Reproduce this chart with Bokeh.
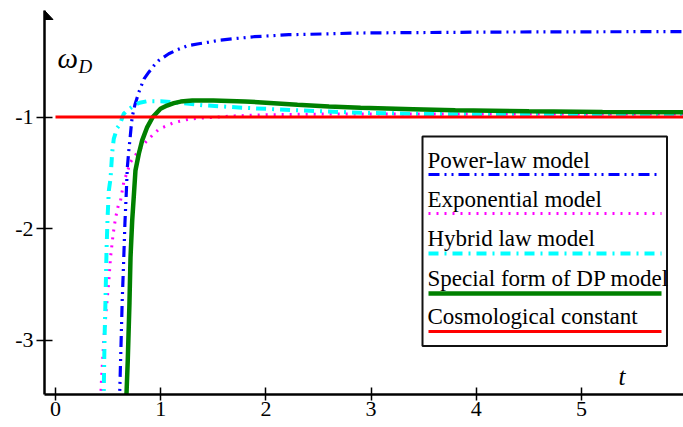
from bokeh.plotting import figure
from bokeh.models import Label, BoxAnnotation, FixedTicker, Range1d
from bokeh.embed import file_html
from bokeh.resources import INLINE

# ---------------- data ----------------
power_t = [0.605, 0.611, 0.624, 0.634, 0.648, 0.660, 0.672, 0.683, 0.697, 0.708, 0.718, 0.729,
           0.755, 0.792, 0.84, 0.887, 0.935, 0.982, 1.077, 1.157, 1.252, 1.362, 1.457, 1.568,
           1.885, 2.218, 2.548, 2.88, 3.216, 3.565, 4.2, 5.0, 6.0]
power_w = [-3.6, -3.45, -3.0, -2.65, -2.29, -1.95, -1.70, -1.45, -1.30, -1.20, -1.10, -1.0,
           -0.89, -0.778, -0.66, -0.598, -0.54, -0.493, -0.433, -0.397, -0.362, -0.343, -0.328, -0.31,
           -0.28, -0.262, -0.255, -0.247, -0.244, -0.242, -0.238, -0.236, -0.234]

expo_t = [0.428, 0.434, 0.459, 0.485, 0.507, 0.523, 0.548, 0.57, 0.60, 0.618, 0.649, 0.681,
          0.713, 0.792, 0.856, 0.919, 0.982, 1.125, 1.283, 1.5, 1.7, 2.0, 2.5, 3.0, 4.0, 5.0, 6.0]
expo_w = [-3.6, -3.41, -3.0, -2.7, -2.47, -2.26, -2.05, -1.91, -1.78, -1.75, -1.585, -1.495,
          -1.405, -1.3, -1.226, -1.166, -1.11, -1.05, -1.017, -1.003, -0.99, -0.98, -0.974, -0.972,
          -0.972, -0.972, -0.972]

hybrid_t = [0.452, 0.459, 0.466, 0.475, 0.485, 0.495, 0.507, 0.523, 0.539, 0.554, 0.585, 0.61,
            0.649, 0.681, 0.744, 0.80, 0.872, 0.998, 1.125, 1.4, 1.8, 2.3, 2.9, 3.5, 4.3, 5.0, 6.0]
hybrid_w = [-3.6, -3.45, -3.0, -2.65, -2.2, -1.9, -1.66, -1.554, -1.316, -1.196, -1.10, -1.07,
            -0.971, -0.942, -0.897, -0.872, -0.858, -0.858, -0.867, -0.895, -0.918, -0.94, -0.962,
            -0.972, -0.98, -0.983, -0.985]

dp_t = [0.672, 0.675, 0.687, 0.703, 0.713, 0.729, 0.745, 0.76, 0.792, 0.824, 0.872, 0.925,
        0.998, 1.06, 1.125, 1.19, 1.3, 1.5, 1.8, 2.0, 2.3, 2.6, 2.9, 3.4, 3.8, 4.5, 5.2, 6.0]
dp_w = [-3.6, -3.48, -3.18, -2.67, -2.26, -1.93, -1.70, -1.48, -1.33, -1.21, -1.09, -1.0,
        -0.926, -0.897, -0.876, -0.862, -0.853, -0.852, -0.86, -0.872, -0.89, -0.905, -0.918,
        -0.93, -0.94, -0.948, -0.955, -0.958]

cc_t = [0.0, 6.0]
cc_w = [-1.0, -1.0]

x_ticks = [0, 1, 2, 3, 4, 5]
x_tick_labels = ["0", "1", "2", "3", "4", "5"]
y_ticks = [-1, -2, -3]
y_tick_labels = ["-1", "-2", "-3"]

legend_labels = ["Power-law model", "Exponential model", "Hybrid law model",
                 "Special form of DP model", "Cosmological constant"]

# ---------------- layout helpers (reference pixel -> data) ----------------
PX_T0, PX_PER_T = 55.0, 105.2
PY_M1, PX_PER_W = 116.5, 111.5


def dx(px):
    return (px - PX_T0) / PX_PER_T


def dy(py):
    return -1.0 - (py - PY_M1) / PX_PER_W


W, H = 683, 427
p = figure(width=W, height=H, output_backend="svg", toolbar_location=None,
           x_range=Range1d(dx(44), dx(683)), y_range=Range1d(dy(394), dy(10)),
           min_border_left=44, min_border_right=0, min_border_top=10, min_border_bottom=33)
p.background_fill_color = "white"
p.border_fill_color = "white"
p.outline_line_color = None
p.grid.visible = False

serif = "Liberation Serif"
for ax in (p.xaxis[0], p.yaxis[0]):
    ax.axis_line_color = "black"
    ax.axis_line_width = 2.5
    ax.major_tick_line_color = "black"
    ax.major_tick_line_width = 1.5
    ax.minor_tick_line_color = None
    ax.major_label_text_font = serif
    ax.major_label_text_font_size = "22px"
    ax.major_label_text_color = "black"

p.xaxis.ticker = FixedTicker(ticks=x_ticks)
p.xaxis.major_label_overrides = dict(zip(x_ticks, x_tick_labels))
p.xaxis.major_tick_in = 7
p.xaxis.major_tick_out = 6
p.xaxis.major_label_standoff = 1

p.yaxis.ticker = FixedTicker(ticks=y_ticks)
p.yaxis.major_label_overrides = dict(zip(y_ticks, y_tick_labels))
p.yaxis.major_tick_in = 8
p.yaxis.major_tick_out = 8
p.yaxis.major_label_standoff = 3

# arrow head on the vertical axis
ax0 = dx(44)
p.patch([ax0 - 8.5 / PX_PER_T, ax0, ax0 + 8.5 / PX_PER_T], [dy(19), dy(10), dy(19)],
        fill_color="black", line_color="black", line_width=1)

styles = [
    (power_t, power_w, "#0000FF", 3.2, "11 5 2 5 2 5"),
    (expo_t, expo_w, "#FF00FF", 3, "2 6"),
    (hybrid_t, hybrid_w, "#00FFFF", 4, "10 6 2 6"),
    (dp_t, dp_w, "#008000", 4.5, "solid"),
    (cc_t, cc_w, "#FF0000", 3, "solid"),
]
for xs, ys, col, lw, dash in styles:
    p.line(xs, ys, line_color=col, line_width=lw, line_dash=dash)

# legend box
p.add_layout(BoxAnnotation(left=dx(422), right=dx(666.5), top=dy(136), bottom=dy(345.5),
                           fill_color="white", fill_alpha=1.0, line_color="#111111",
                           line_alpha=1.0, line_width=2, level="underlay"))
text_base = [160, 199, 238, 278, 316]
line_y = [174, 213, 253, 293, 331]
for (xs, ys, col, lw, dash), lab, tb, ly in zip(styles, legend_labels, text_base, line_y):
    p.add_layout(Label(x=dx(427), y=dy(tb), text=lab, text_font=serif, text_font_size="23px",
                       text_color="black", text_baseline="alphabetic"))
    p.line([dx(428), dx(661)], [dy(ly), dy(ly)], line_color=col, line_width=lw,
           line_dash=dash)

# axis titles
p.add_layout(Label(x=dx(57), y=dy(57), text="ω", text_font=serif, text_font_size="29px",
                   text_font_style="italic", text_color="black", text_baseline="alphabetic"))
p.add_layout(Label(x=dx(78), y=dy(66), text="D", text_font=serif, text_font_size="19px",
                   text_font_style="italic", text_color="black", text_baseline="alphabetic"))
p.add_layout(Label(x=dx(618), y=dy(376), text="t", text_font=serif, text_font_size="25px",
                   text_font_style="italic", text_color="black", text_baseline="alphabetic"))

open("out.html", "w").write(file_html(p, INLINE))
